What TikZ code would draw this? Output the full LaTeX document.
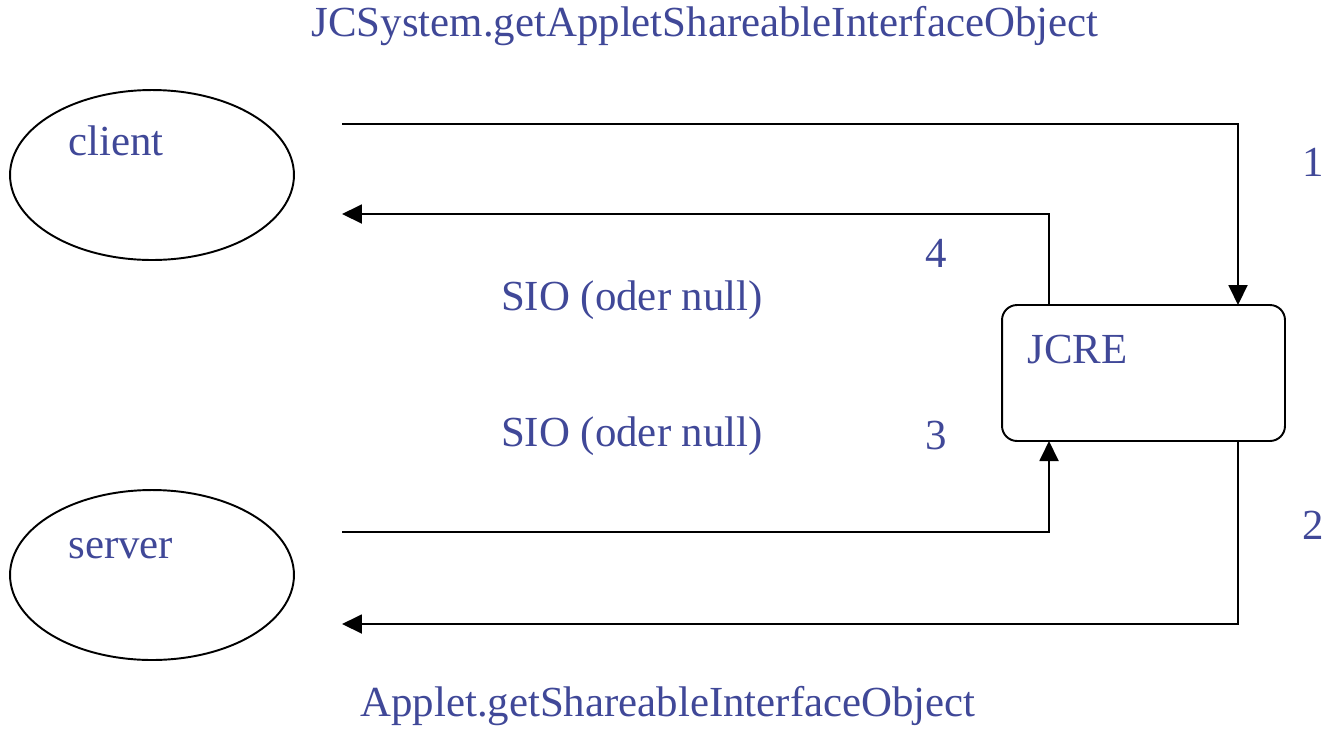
\documentclass[tikz,border=0pt]{standalone}
\usepackage{fontspec}
\setmainfont{Liberation Serif}
\usetikzlibrary{arrows.meta,shapes.geometric}
\definecolor{txtblue}{RGB}{64,72,152}

\begin{document}
\begin{tikzpicture}[x=0.02cm,y=-0.02cm,
        lbl/.style={text=txtblue,font=\fontsize{24.4}{28}\selectfont,inner sep=0pt},
        party/.style={draw,ellipse,line width=1.1pt,minimum width=5.68cm,minimum height=3.4cm},
        runtime/.style={draw,line width=1.1pt,rounded corners=0.3cm,minimum width=5.66cm,minimum height=2.72cm},
        flow/.style={line width=1.1pt,-{Triangle[length=0.4cm,width=0.38cm]}}]
    \useasboundingbox (0,0) rectangle (1329,728);
    % parties and runtime
    \node[party] (client) at (152,175) {};
    \node[party] (server) at (152,575) {};
    \node[runtime] (jcre) at (1143.5,373) {};
    \node[lbl,anchor=west] (clientlbl) at (68,141) {client};
    \node[lbl,anchor=west] (serverlbl) at (68,549) {server};
    \node[lbl,anchor=west] (jcrelbl) at (1027,350) {JCRE};
    % free ends of the connectors
    \coordinate (c1) at (342,124);
    \coordinate (c4) at (342,214);
    \coordinate (s3) at (342,532);
    \coordinate (s2) at (342,624);
    \coordinate (j1) at (1238,305);
    \coordinate (j4) at (1049,305);
    \coordinate (j3) at (1049,441);
    \coordinate (j2) at (1238,441);
    % connectors
    \draw[flow] (c1) -| (j1);
    \draw[flow] (j4) |- (c4);
    \draw[flow] (s3) -| (j3);
    \draw[flow] (j2) |- (s2);
    % labels
    \node[lbl] (top) at (705,26) {JCSystem.getAppletShareableInterfaceObject};
    \node[lbl] (bottom) at (668,706) {Applet.getShareableInterfaceObject};
    \node[lbl] (n1) at (1313,162) {1};
    \node[lbl] (n2) at (1313,525) {2};
    \node[lbl] (n4) at (936,253) {4};
    \node[lbl] (n3) at (936,436) {3};
    \node[lbl] (sio4) at (632,300) {SIO (oder null)};
    \node[lbl] (sio3) at (632,436) {SIO (oder null)};
\end{tikzpicture}
\end{document}
